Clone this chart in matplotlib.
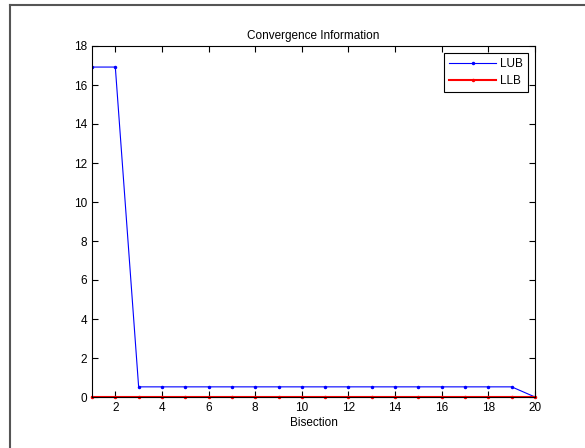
import matplotlib
matplotlib.use("Agg")
import matplotlib.pyplot as plt
from matplotlib.lines import Line2D

plt.rcParams['font.family'] = ['Liberation Sans', 'DejaVu Sans']

bisection = list(range(1, 21))
lub = [16.92, 16.92] + [0.52] * 17 + [0.0]
llb = [0.0] * 20

fig = plt.figure(figsize=(5.85, 4.48), dpi=100)
ax = fig.add_axes([92 / 585, 51 / 448, (535 - 92) / 585, (397 - 46) / 448])

ax.plot(bisection, lub, color='blue', lw=0.8, marker='.', ms=3, label='LUB')
ax.plot(bisection, llb, color='red', lw=1.5, marker='.', ms=3, label='LLB', clip_on=False)

ax.set_xlim(1, 20)
ax.set_ylim(0, 18)
ax.set_xticks(range(2, 21, 2))
ax.set_yticks(range(0, 19, 2))
ax.tick_params(direction='in', top=True, right=True, labelsize=8.5, length=4, width=0.8)
for s in ax.spines.values():
    s.set_linewidth(0.8)
ax.set_title('Convergence Information', fontsize=8.5, pad=5)
ax.set_xlabel('Bisection', fontsize=8.5, labelpad=2)

leg = ax.legend(loc='upper right', fontsize=8.5, fancybox=False, framealpha=1,
                edgecolor='black', borderaxespad=0.6, handlelength=4.0,
                borderpad=0.45, labelspacing=0.4, handletextpad=0.3)
leg.get_frame().set_linewidth(0.8)

# outer frame like MATLAB figure border
fig.add_artist(Line2D([10 / 585, 10 / 585], [0, 1 - 5 / 448], color='#555555', lw=1.5))
fig.add_artist(Line2D([10 / 585, 1], [1 - 5 / 448, 1 - 5 / 448], color='#555555', lw=1.5))

fig.savefig('out.png', dpi=100)
